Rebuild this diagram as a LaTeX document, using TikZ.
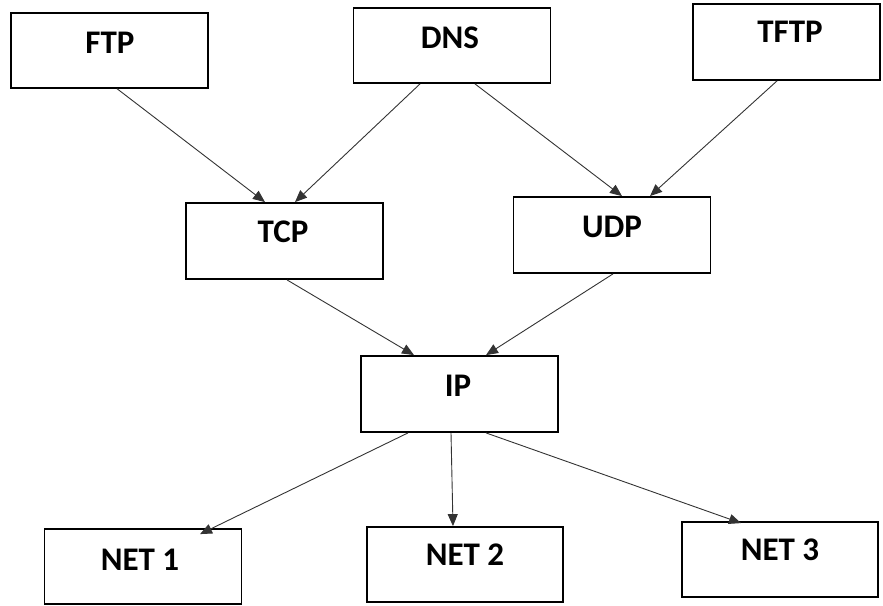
\documentclass[tikz,border=0pt]{standalone}
\usepackage{fontspec}
\setmainfont{Carlito}
\usetikzlibrary{arrows.meta}
\begin{document}
\begin{tikzpicture}[x=1pt,y=-1pt,
  box/.style={draw=black,line width=1.8pt,fill=white,inner sep=0pt,
    minimum width=197pt,minimum height=75pt},
  lbl/.style={font=\fontsize{33}{38}\selectfont\bfseries,inner sep=0pt},
  arr/.style={draw=black!80,line width=0.9pt,
    -{Triangle[length=12pt,width=10pt]}}]
\useasboundingbox (0,0) rectangle (883,605);
% boxes
\node[box] (ftp)  at (109.3,50.3) {};
\node[box] (dns)  at (452,45.5) {};
\node[box,minimum width=187pt,minimum height=76pt] (tftp) at (786.5,42) {};
\node[box,minimum height=76pt] (tcp)  at (284.5,241) {};
\node[box,minimum height=76pt] (udp)  at (612,235) {};
\node[box,minimum height=76pt] (ip)   at (459.5,394) {};
\node[box] (net1) at (143,566.5) {};
\node[box,minimum width=196pt] (net2) at (465,564.5) {};
\node[box,minimum width=196pt] (net3) at (780,559.5) {};
% labels
\node[lbl] (ftp-l)  at (110,43) {FTP};
\node[lbl] (dns-l)  at (450,38) {DNS};
\node[lbl] (tftp-l) at (790,32) {TFTP};
\node[lbl] (tcp-l)  at (283,232) {TCP};
\node[lbl] (udp-l)  at (612,227) {UDP};
\node[lbl] (ip-l)   at (458,386) {IP};
\node[lbl] (net1-l) at (140,560) {NET 1};
\node[lbl] (net2-l) at (465,555) {NET 2};
\node[lbl] (net3-l) at (780,550) {NET 3};
% connectors
\draw[arr] ([xshift=7.7pt]ftp.south) -- ([xshift=-19.5pt]tcp.north);
\draw[arr] ([xshift=-32pt]dns.south) -- ([xshift=10.5pt]tcp.north);
\draw[arr] ([xshift=23pt]dns.south) -- ([xshift=10pt]udp.north);
\draw[arr] ([xshift=-9.5pt]tftp.south) -- ([xshift=38pt]udp.north);
\draw[arr] ([xshift=2.5pt]tcp.south) -- ([xshift=-45.5pt]ip.north);
\draw[arr] ([xshift=1pt]udp.south) -- ([xshift=26.5pt]ip.north);
\draw[arr] ([xshift=-51.5pt]ip.south) -- ([xshift=57pt,yshift=-6pt]net1.north);
\draw[arr] ([xshift=-8.5pt]ip.south) -- ([xshift=-12pt]net2.north);
\draw[arr] ([xshift=26.5pt]ip.south) -- ([xshift=-39pt,yshift=-2pt]net3.north);
\end{tikzpicture}
\end{document}
